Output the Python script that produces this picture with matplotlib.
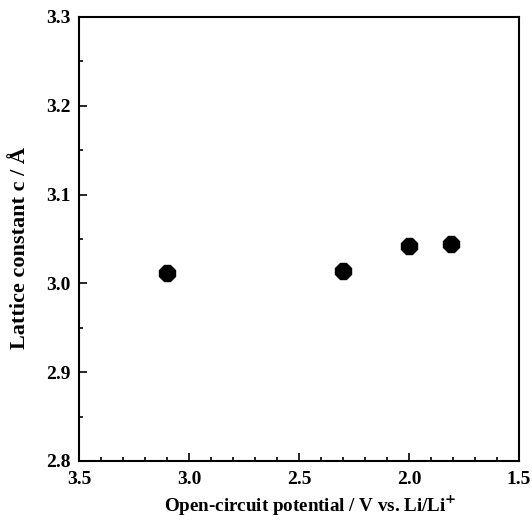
import matplotlib
matplotlib.use("Agg")
import matplotlib.pyplot as plt
from matplotlib.ticker import MultipleLocator

potential = [3.10, 2.30, 2.00, 1.81]
lattice_c = [3.012, 3.014, 3.042, 3.044]

plt.rcParams['font.family'] = ['Liberation Serif', 'DejaVu Serif']
plt.rcParams['font.weight'] = 'bold'

fig = plt.figure(figsize=(5.32, 5.20), dpi=100)
ax = fig.add_axes([79/532, 1 - 461/520, 440/532, 444/520])

ax.plot(potential, lattice_c, linestyle='none', marker='8', markersize=13,
        color='black')

ax.set_xlim(3.5, 1.5)
ax.set_ylim(2.8, 3.3)
ax.xaxis.set_major_locator(MultipleLocator(0.5))
ax.xaxis.set_minor_locator(MultipleLocator(0.1))
ax.yaxis.set_major_locator(MultipleLocator(0.1))
ax.yaxis.set_minor_locator(MultipleLocator(0.05))
ax.xaxis.set_major_formatter(plt.FormatStrFormatter('%.1f'))
ax.yaxis.set_major_formatter(plt.FormatStrFormatter('%.1f'))
ax.tick_params(which='both', direction='in', top=False, right=False,
               labelsize=14, width=1.2)
ax.tick_params(which='major', length=6)
ax.tick_params(axis='x', which='major', pad=7)
ax.tick_params(axis='y', which='major', pad=6)
ax.tick_params(which='minor', length=3)
for lbl in ax.get_xticklabels() + ax.get_yticklabels():
    lbl.set_fontweight('bold')
for s in ax.spines.values():
    s.set_linewidth(1.5)

ax.set_xlabel('Open-circuit potential / V vs. Li/Li$^{\\mathbf{+}}$',
              fontsize=13.7, fontweight='bold')
ax.xaxis.set_label_coords(0.525, -0.074)
ax.set_ylabel('Lattice constant c / Å', fontsize=16, fontweight='bold')
ax.yaxis.set_label_coords(-0.112, 0.48)

fig.savefig('out.png', dpi=100)
